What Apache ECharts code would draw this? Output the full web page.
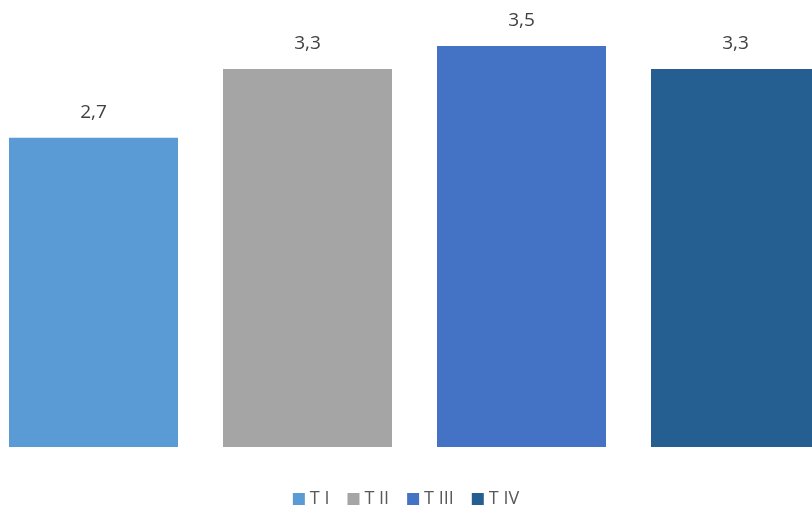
<!DOCTYPE html>
<html>
<head>
<meta charset="utf-8">
<script src="https://cdn.jsdelivr.net/npm/echarts@6/dist/echarts.min.js"></script>
<style>
  html, body { margin: 0; padding: 0; background: #ffffff; }
  #chart { width: 812px; height: 510px; }
</style>
</head>
<body>
<div id="chart"></div>
<script>
// Quarterly values, one bar per quarter
const categories = ['T I', 'T II', 'T III', 'T IV'];
const values = [2.7, 3.3, 3.5, 3.3];
const colors = ['#5B9BD5', '#A5A5A5', '#4472C4', '#255E91'];

const chart = echarts.init(document.getElementById('chart'));

// Each quarter is its own series so the legend lists them separately;
// the bars overlap on their own category slot via barGap -100%.
const series = categories.map((name, i) => ({
  name: name,
  type: 'bar',
  barWidth: 169,
  barGap: '-100%',
  itemStyle: { color: colors[i] },
  label: {
    show: true,
    position: 'top',
    distance: 16,
    color: '#404040',
    fontSize: 19,
    fontFamily: 'Open Sans',
    formatter: p => String(p.value).replace('.', ',')
  },
  data: categories.map((c, j) => (j === i ? values[i] : null))
}));

chart.setOption({
  animation: false,
  backgroundColor: '#ffffff',
  grid: {
    left: -13.5, width: 856, top: 46, bottom: 63,
    containLabel: false,
    outerBoundsMode: 'none'
  },
  xAxis: {
    type: 'category',
    data: categories,
    show: false
  },
  yAxis: {
    type: 'value',
    min: 0,
    max: 3.5,
    show: false,
    splitLine: { show: false }
  },
  legend: {
    data: categories,
    top: 485,
    left: 'center',
    itemWidth: 12,
    itemHeight: 12,
    itemGap: 18,
    icon: 'rect',
    textStyle: { color: '#595959', fontSize: 18, fontFamily: 'Open Sans' }
  },
  series: series
});
</script>
</body>
</html>
